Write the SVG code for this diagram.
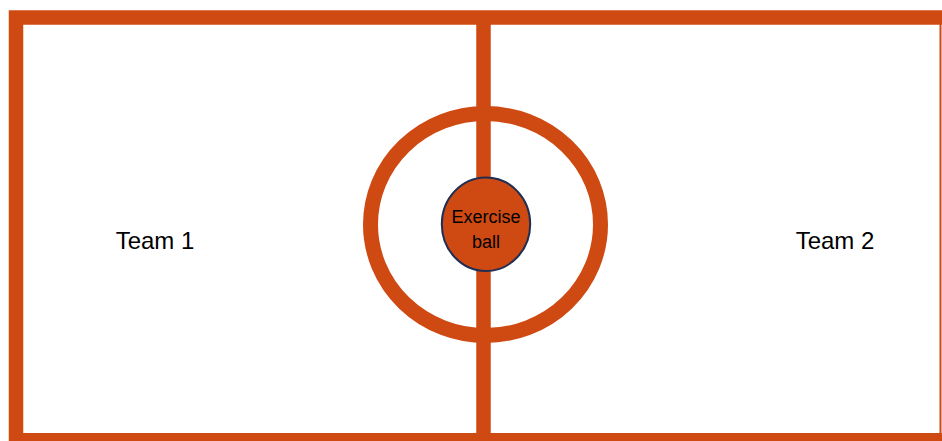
<svg xmlns="http://www.w3.org/2000/svg" width="942" height="441" viewBox="0 0 942 441">
  <style>
    .line { fill: none; stroke: #CF4A13; }
    .label { font-family: "Liberation Sans", Arial, sans-serif; fill: #000; text-anchor: middle; }
  </style>
  <rect x="0" y="0" width="942" height="441" fill="#ffffff"/>
  <g id="field">
    <path class="line" stroke-width="14.5" d="M16,447 V17.5 H960"/>
    <line class="line" stroke-width="14" x1="9" y1="440" x2="960" y2="440"/>
    <line class="line" stroke-width="2" x1="940.5" y1="20" x2="940.5" y2="436"/>
    <line class="line" stroke-width="14.5" x1="483.5" y1="20" x2="483.5" y2="436"/>
    <ellipse class="line" stroke-width="15" cx="485.5" cy="224.5" rx="115" ry="111"/>
  </g>
  <g id="ball">
    <ellipse cx="486" cy="224.2" rx="44.2" ry="46.8" fill="#CF4A13" stroke="#1F2E52" stroke-width="2"/>
    <text class="label" x="486" y="223.3" font-size="18">Exercise</text>
    <text class="label" x="486" y="248.3" font-size="18">ball</text>
  </g>
  <g id="team1">
    <text class="label" x="155" y="248.5" font-size="24">Team 1</text>
  </g>
  <g id="team2">
    <text class="label" x="835" y="248.5" font-size="24">Team 2</text>
  </g>
</svg>
